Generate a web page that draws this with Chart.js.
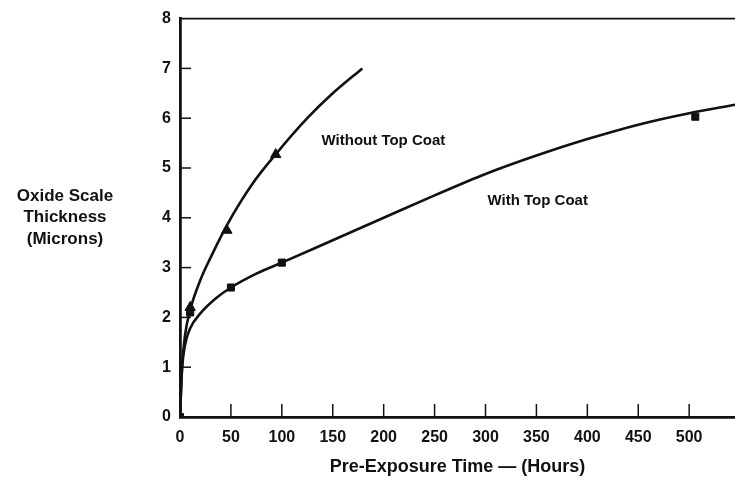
<!DOCTYPE html>
<html>
<head>
<meta charset="utf-8">
<script src="https://cdn.jsdelivr.net/npm/chart.js@4.4.1/dist/chart.umd.min.js"></script>
<style>
  html, body { margin: 0; padding: 0; background: #ffffff; }
  #wrap { width: 735px; height: 483px; position: relative; }
</style>
</head>
<body>
<div id="wrap"><canvas id="c" width="735" height="483"></canvas></div>
<script>
// ---- Data ----
const hoursWithout = [0, 2, 5, 10, 20, 30, 46, 70, 95, 125, 150, 179];
const thickWithout = [0, 1.0, 1.65, 2.15, 2.75, 3.2, 3.85, 4.65, 5.3, 6.0, 6.5, 7.0];

const hoursWith = [0, 2, 5, 10, 20, 35, 50, 75, 100, 150, 200, 250, 300, 350, 400, 450, 500, 545];
const thickWith = [0, 0.95, 1.45, 1.78, 2.08, 2.38, 2.6, 2.88, 3.1, 3.55, 4.0, 4.45, 4.88, 5.25, 5.58, 5.87, 6.1, 6.27];

const triHours = [10, 46, 94];
const triThick = [2.2, 3.75, 5.27];

const sqHours = [0, 10, 50, 100, 506];
const sqThick = [0, 2.1, 2.6, 3.1, 6.03];

const xTickValues = [0, 50, 100, 150, 200, 250, 300, 350, 400, 450, 500];
const yTickValues = [0, 1, 2, 3, 4, 5, 6, 7, 8];

const seriesLabels = ["Without Top Coat", "With Top Coat"];
const labelHours = [139, 302];
const labelThick = [5.54, 4.34];

const xTitle = "Pre-Exposure Time \u2014 (Hours)";
const yTitle = ["Oxide Scale", "Thickness", "(Microns)"];

// ---- Build ----
const pts = (xs, ys) => xs.map((x, i) => ({ x: x, y: ys[i] }));
const INK = "#111111";
const FONT = "'Liberation Sans', Arial, Helvetica, sans-serif";

const decorPlugin = {
  id: "decor",
  afterDatasetsDraw(chart) {
    const ctx = chart.ctx;
    const xs = chart.scales.x, ys = chart.scales.y;
    const a = chart.chartArea;
    ctx.save();
    ctx.strokeStyle = INK;
    ctx.lineCap = "butt";
    // top frame line
    ctx.lineWidth = 1.6;
    ctx.beginPath();
    ctx.moveTo(a.left, a.top);
    ctx.lineTo(chart.width, a.top);
    ctx.stroke();
    // inward ticks on x axis
    ctx.lineWidth = 1.5;
    xTickValues.forEach(v => {
      if (v === 0) return;
      const px = xs.getPixelForValue(v);
      ctx.beginPath();
      ctx.moveTo(px, a.bottom);
      ctx.lineTo(px, a.bottom - 13);
      ctx.stroke();
    });
    // inward ticks on y axis
    yTickValues.forEach(v => {
      if (v === 0 || v === 8) return;
      const py = ys.getPixelForValue(v);
      ctx.beginPath();
      ctx.moveTo(a.left, py);
      ctx.lineTo(a.left + 11, py);
      ctx.stroke();
    });
    // curve labels
    ctx.fillStyle = INK;
    ctx.font = "bold 15px " + FONT;
    ctx.textAlign = "left";
    ctx.textBaseline = "middle";
    seriesLabels.forEach((t, i) => {
      ctx.fillText(t, xs.getPixelForValue(labelHours[i]), ys.getPixelForValue(labelThick[i]));
    });
    // y-axis title (horizontal, multi-line)
    ctx.font = "bold 17px " + FONT;
    ctx.textAlign = "center";
    yTitle.forEach((t, i) => {
      ctx.fillText(t, 65, 196 + i * 21.5);
    });
    ctx.restore();
  }
};

new Chart(document.getElementById("c"), {
  type: "line",
  data: {
    datasets: [
      {
        label: seriesLabels[0],
        data: pts(hoursWithout, thickWithout),
        borderColor: INK, borderWidth: 2.6, pointRadius: 0,
        cubicInterpolationMode: "monotone", fill: false
      },
      {
        label: seriesLabels[1],
        data: pts(hoursWith, thickWith),
        borderColor: INK, borderWidth: 2.6, pointRadius: 0,
        cubicInterpolationMode: "monotone", fill: false
      },
      {
        label: "Without Top Coat (measured)",
        data: pts(triHours, triThick),
        showLine: false, pointStyle: "triangle", pointRadius: 6,
        backgroundColor: INK, borderColor: INK, borderWidth: 1
      },
      {
        label: "With Top Coat (measured)",
        data: pts(sqHours, sqThick),
        showLine: false, pointStyle: "rect", pointRadius: 5,
        backgroundColor: INK, borderColor: INK, borderWidth: 1
      }
    ]
  },
  options: {
    responsive: false,
    animation: false,
    events: [],
    layout: { autoPadding: false, padding: { top: 17, right: 0, left: 0, bottom: 0 } },
    plugins: { legend: { display: false }, tooltip: { enabled: false } },
    scales: {
      x: {
        type: "linear",
        min: 0, max: 545,
        afterBuildTicks: s => { s.ticks = xTickValues.map(v => ({ value: v })); },
        ticks: {
          color: INK, font: { family: FONT, weight: "bold", size: 16 },
          padding: 11, maxRotation: 0, autoSkip: false
        },
        grid: { display: false, drawTicks: false },
        border: { display: true, color: INK, width: 2.8 },
        title: {
          display: true, text: xTitle, color: INK,
          font: { family: FONT, weight: "bold", size: 18 },
          padding: { top: 6, bottom: 5 }
        },
        afterFit: s => { s.height = 66; s.paddingLeft = 0; s.paddingRight = 0; }
      },
      y: {
        type: "linear",
        min: 0, max: 8,
        afterBuildTicks: s => { s.ticks = yTickValues.map(v => ({ value: v })); },
        ticks: {
          color: INK, font: { family: FONT, weight: "bold", size: 16 },
          padding: 9
        },
        grid: { display: false, drawTicks: false },
        border: { display: true, color: INK, width: 2.8 },
        afterFit: s => { s.width = 180; }
      }
    }
  },
  plugins: [decorPlugin]
});
</script>
</body>
</html>
